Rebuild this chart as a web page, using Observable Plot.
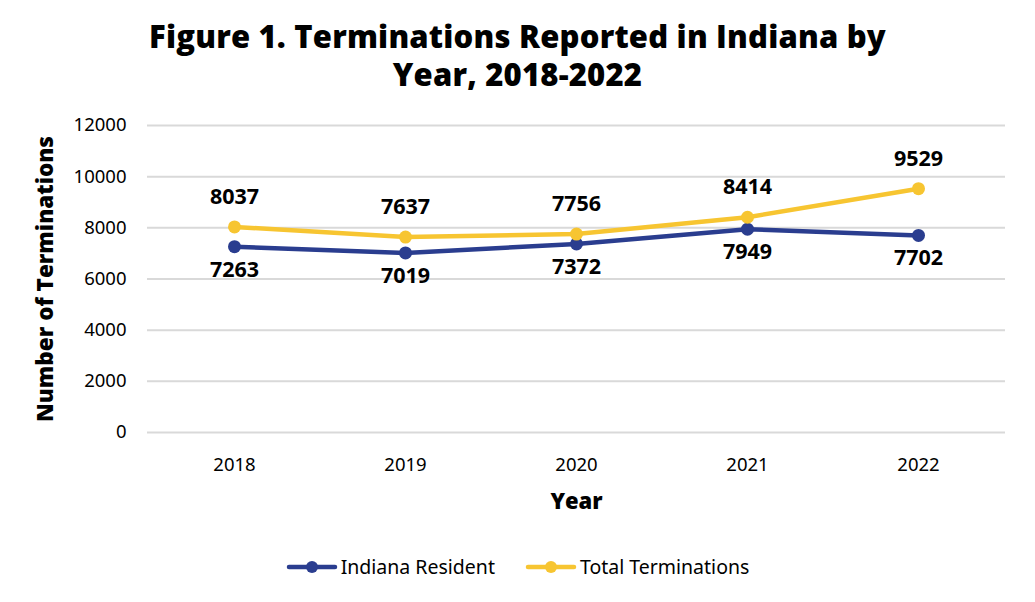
<!DOCTYPE html>
<html>
<head>
<meta charset="utf-8">
<script src="https://cdn.jsdelivr.net/npm/d3@7"></script>
<script src="https://cdn.jsdelivr.net/npm/@observablehq/plot@0.6"></script>
<style>
  html, body { margin: 0; padding: 0; background: #fff; }
  #wrap { width: 1035px; height: 602px; position: relative; overflow: hidden; }
  #title { position: absolute; left: 0; top: 17px; width: 1035px; text-align: center;
    font-family: "Open Sans", sans-serif; font-weight: 800; font-size: 31px; line-height: 38px; color: #000; letter-spacing: 0.2px; }
  #chart { position: absolute; left: 0; top: 105px; }
  #legend { position: absolute; left: 0; top: 553px; width: 1035px; display: flex; justify-content: center; gap: 30px;
    font-family: "Noto Sans", sans-serif; font-size: 19.5px; color: #000; }
  .item { display: flex; align-items: center; gap: 3px; }
</style>
</head>
<body>
<div id="wrap">
  <div id="title">Figure 1. Terminations Reported in Indiana by<br>Year, 2018-2022</div>
  <div id="chart"></div>
  <div id="legend"></div>
</div>
<script>
const years = ["2018", "2019", "2020", "2021", "2022"];
const indianaResident = [7263, 7019, 7372, 7949, 7702];
const totalTerminations = [8037, 7637, 7756, 8414, 9529];
const yTicks = [0, 2000, 4000, 6000, 8000, 10000, 12000];
const seriesNames = ["Indiana Resident", "Total Terminations"];
const seriesColors = ["#2a3d8f", "#f7c531"];

const data = [];
years.forEach((y, i) => {
  data.push({year: y, value: indianaResident[i], series: seriesNames[0]});
  data.push({year: y, value: totalTerminations[i], series: seriesNames[1]});
});
const res = data.filter(d => d.series === seriesNames[0]);
const tot = data.filter(d => d.series === seriesNames[1]);

const font = "'Noto Sans', sans-serif";
const plot = Plot.plot({
  width: 1035,
  height: 420,
  marginLeft: 147,
  marginRight: 30,
  marginTop: 20,
  marginBottom: 93,
  style: {fontFamily: font, fontSize: "18px", color: "#000", background: "#fff"},
  x: {type: "point", domain: years, padding: 0.5, label: null},
  y: {domain: [0, 12000], ticks: yTicks, label: null},
  color: {domain: seriesNames, range: seriesColors},
  marks: [
    Plot.gridY(yTicks, {stroke: "#d9d9d9", strokeOpacity: 1, strokeWidth: 2}),
    Plot.axisY(yTicks, {tickSize: 0, tickPadding: 21, fontSize: 18.5, label: null, tickFormat: d => String(d)}),
    Plot.axisX({tickSize: 0, tickPadding: 25, fontSize: 18.5, label: null}),
    Plot.line(data, {x: "year", y: "value", z: "series", stroke: "series", strokeWidth: 4.5, strokeLinejoin: "round", strokeLinecap: "round"}),
    Plot.dot(data, {x: "year", y: "value", fill: "series", r: 6.5}),
    Plot.text(tot, {x: "year", y: "value", text: d => String(d.value), dy: -30, fontSize: 21.5, fontWeight: "bold", fill: "#000"}),
    Plot.text(res, {x: "year", y: "value", text: d => String(d.value), dy: 23, fontSize: 21.5, fontWeight: "bold", fill: "#000"}),
    Plot.text(["Number of Terminations"], {frameAnchor: "left", textAnchor: "middle", dx: -102, rotate: -90, fontSize: 22.5, fontWeight: 900, fontFamily: "'Open Sans', sans-serif", fill: "#000"}),
    Plot.text(["Year"], {frameAnchor: "bottom", dy: 76, fontSize: 22, fontWeight: 900, fontFamily: "'Open Sans', sans-serif", fill: "#000"})
  ]
});
document.getElementById("chart").appendChild(plot);

const legend = document.getElementById("legend");
seriesNames.forEach((name, i) => {
  const item = document.createElement("div");
  item.className = "item";
  item.innerHTML = `<svg width="52" height="14"><line x1="3" y1="7" x2="49" y2="7" stroke="${seriesColors[i]}" stroke-width="4.5" stroke-linecap="round"/><circle cx="26" cy="7" r="6" fill="${seriesColors[i]}"/></svg><span>${name}</span>`;
  legend.appendChild(item);
});
</script>
</body>
</html>
